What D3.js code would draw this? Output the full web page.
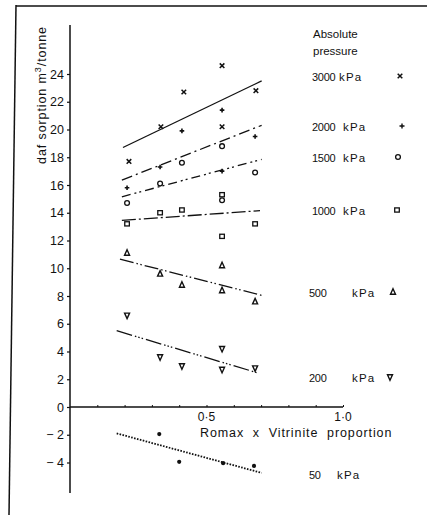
<!DOCTYPE html>
<html><head><meta charset="utf-8">
<script src="https://cdn.jsdelivr.net/npm/d3@7"></script>
<style>
html,body{margin:0;padding:0;background:#fff;}
svg text{font-family:"Liberation Sans","DejaVu Sans",sans-serif;fill:#111;}
</style></head>
<body>
<svg id="chart" width="427" height="515"></svg>
<script>
// ---- data ----
const pressures = ["3000", "2000", "1500", "1000", "500", "200", "50"];
const symbols = ["x", "plus", "circle", "square", "triangle", "triangleDown", "dot"];
const xStd = [0.209, 0.33, 0.41, 0.557, 0.557, 0.678];
const x3000 = [0.216, 0.333, 0.417, 0.557, 0.557, 0.681];
const y3000 = [17.7, 20.2, 22.7, 24.6, 20.2, 22.8];
const y2000 = [15.8, 17.3, 19.9, 21.4, 17.0, 19.5];
const y1500 = [14.7, 16.1, 17.6, 18.8, 14.9, 16.9];
const y1000 = [13.2, 14.0, 14.2, 15.3, 12.3, 13.2];
const y500 = [11.1, 9.6, 8.8, 10.2, 8.4, 7.6];
const y200 = [6.6, 3.6, 2.95, 4.2, 2.7, 2.8];
const x50 = [0.327, 0.4, 0.561, 0.674];
const y50 = [-1.95, -3.95, -4.05, -4.25];
// fitted lines: start x, start y, end x, end y
const fitX0 = [0.194, 0.19, 0.19, 0.19, 0.183, 0.171, 0.171];
const fitY0 = [18.7, 16.35, 15.15, 13.45, 10.65, 5.5, -1.9];
const fitX1 = [0.702, 0.702, 0.702, 0.696, 0.702, 0.689, 0.702];
const fitY1 = [23.5, 20.3, 17.85, 14.15, 8.05, 2.45, -4.75];
const yTicks = [-4, -2, 0, 2, 4, 6, 8, 10, 12, 14, 16, 18, 20, 22, 24];
const xTickLabels = ["0·5", "1·0"];
const xLabelValues = [0.5, 1.0];

const seriesX = [x3000, xStd, xStd, xStd, xStd, xStd, x50];
const seriesY = [y3000, y2000, y1500, y1000, y500, y200, y50];
const dashes = ["none", "11,4,2,4", "9,4,2,3,2,4", "14,3,2,3", "14,3,1.5,2.5,1.5,3", "16,3,1.5,2,1.5,2,1.5,3", "1.6,1.4"];
const widths = [1.3, 1.3, 1.3, 1.3, 1.3, 1.3, 1.8];
const legendY = [76, 126, 157, 210, 292, 377, 474];

// ---- scales ----
const svg = d3.select("#chart");
const x = d3.scaleLinear().domain([0, 1]).range([70, 343]);
const y = d3.scaleLinear().domain([0, 24]).range([407, 74]);

// frame
svg.append("line").attr("x1", 16).attr("y1", 6).attr("x2", 427).attr("y2", 6).attr("stroke", "#111").attr("stroke-width", 1.5);
svg.append("line").attr("x1", 16).attr("y1", 5).attr("x2", 9).attr("y2", 515).attr("stroke", "#111").attr("stroke-width", 1.5);

// y axis
svg.append("line").attr("x1", x(0)).attr("x2", x(0)).attr("y1", 25).attr("y2", 493).attr("stroke", "#111").attr("stroke-width", 1.5);
const yAxis = d3.axisLeft(y).tickValues(yTicks).tickSize(3).tickPadding(3)
  .tickFormat(d => d < 0 ? "− " + Math.abs(d) : String(d));
const ga = svg.append("g").attr("transform", `translate(${x(0)},0)`).call(yAxis);
ga.select(".domain").remove();
ga.selectAll("line").attr("stroke", "#111").attr("stroke-width", 1.2);
ga.selectAll("text").style("font-size", "12.5px").attr("fill", "#111");

// x axis
svg.append("line").attr("x1", x(0)).attr("x2", x(1)).attr("y1", y(0)).attr("y2", y(0)).attr("stroke", "#111").attr("stroke-width", 1.3);
const xAxis = d3.axisTop(x).tickValues(d3.range(1, 11).map(d => d / 10)).tickSize(2).tickFormat("");
const gx = svg.append("g").attr("transform", `translate(0,${y(0)})`).call(xAxis);
gx.select(".domain").remove();
gx.selectAll("line").attr("stroke", "#111");
svg.selectAll(".xlab").data(xLabelValues).enter().append("text")
  .attr("x", d => x(d)).attr("y", y(0) + 14).attr("text-anchor", "middle")
  .style("font-size", "12px").text((d, i) => xTickLabels[i]);

svg.append("text").attr("x", 200).attr("y", 437).style("font-size", "12.5px").style("letter-spacing", "0.9px")
  .style("white-space", "pre").text("Romax  x  Vitrinite  proportion");

// y label
svg.append("text").attr("transform", "translate(46,95) rotate(-90)").attr("text-anchor", "middle")
  .style("font-size", "12.5px").style("letter-spacing", "0.9px")
  .html("daf sorption m<tspan dy='-5' font-size='9px'>3</tspan><tspan dy='5'>/tonne</tspan>");

// fit lines
pressures.forEach((p, i) => {
  svg.append("line").attr("x1", x(fitX0[i])).attr("y1", y(fitY0[i])).attr("x2", x(fitX1[i])).attr("y2", y(fitY1[i]))
    .attr("stroke", "#111").attr("stroke-width", widths[i]).attr("stroke-dasharray", dashes[i]);
});

// markers
function drawMarker(g, type, cx, cy) {
  const s = "#111";
  if (type === "x") {
    g.append("path").attr("d", `M${cx-2.3},${cy-2.3}L${cx+2.3},${cy+2.3}M${cx-2.3},${cy+2.3}L${cx+2.3},${cy-2.3}`).attr("stroke", s).attr("stroke-width", 1.5);
  } else if (type === "plus") {
    g.append("path").attr("d", `M${cx-2.3},${cy}L${cx+2.3},${cy}M${cx},${cy-2.3}L${cx},${cy+2.3}`).attr("stroke", s).attr("stroke-width", 1.6);
  } else if (type === "circle") {
    g.append("circle").attr("cx", cx).attr("cy", cy).attr("r", 2.4).attr("fill", "none").attr("stroke", s).attr("stroke-width", 1.3);
  } else if (type === "square") {
    g.append("rect").attr("x", cx-2.3).attr("y", cy-2.1).attr("width", 4.6).attr("height", 4.2).attr("fill", "none").attr("stroke", s).attr("stroke-width", 1.3);
  } else if (type === "triangle") {
    g.append("path").attr("d", `M${cx},${cy-3.2}L${cx+2.5},${cy+2.3}L${cx-2.5},${cy+2.3}Z`).attr("fill", "none").attr("stroke", s).attr("stroke-width", 1.4);
  } else if (type === "triangleDown") {
    g.append("path").attr("d", `M${cx},${cy+3.2}L${cx+2.5},${cy-2.3}L${cx-2.5},${cy-2.3}Z`).attr("fill", "none").attr("stroke", s).attr("stroke-width", 1.4);
  } else if (type === "dot") {
    g.append("circle").attr("cx", cx).attr("cy", cy).attr("r", 2.1).attr("fill", s);
  }
}
const gm = svg.append("g");
pressures.forEach((p, i) => {
  seriesY[i].forEach((v, j) => drawMarker(gm, symbols[i], x(seriesX[i][j]), y(v)));
});

// legend
svg.append("text").attr("x", 313).attr("y", 38).style("font-size", "11.5px").text("Absolute");
svg.append("text").attr("x", 313).attr("y", 55).style("font-size", "11.5px").text("pressure");
const legX = [[312, 339, 400], [312, 343, 402], [312, 343, 398], [312, 343, 397], [309, 352, 393], [309, 352, 390], [309, 337, null]];
pressures.forEach((p, i) => {
  svg.append("text").attr("x", legX[i][0]).attr("y", legendY[i] + 4.5).style("font-size", "11px").style("letter-spacing", "-0.3px").text(p);
  svg.append("text").attr("x", legX[i][1]).attr("y", legendY[i] + 4.5).style("font-size", "11.5px").style("letter-spacing", "1.2px").text("kPa");
  if (legX[i][2] !== null) {
    const lg = svg.append("g");
    if (symbols[i] === "plus") {
      lg.append("path").attr("d", `M${legX[i][2]-2.5},${legendY[i]}L${legX[i][2]+2.5},${legendY[i]}M${legX[i][2]},${legendY[i]-2.5}L${legX[i][2]},${legendY[i]+2.5}`).attr("stroke", "#111").attr("stroke-width", 1.4);
    } else {
      drawMarker(lg, symbols[i], legX[i][2], legendY[i]);
    }
  }
});
</script>
</body></html>
